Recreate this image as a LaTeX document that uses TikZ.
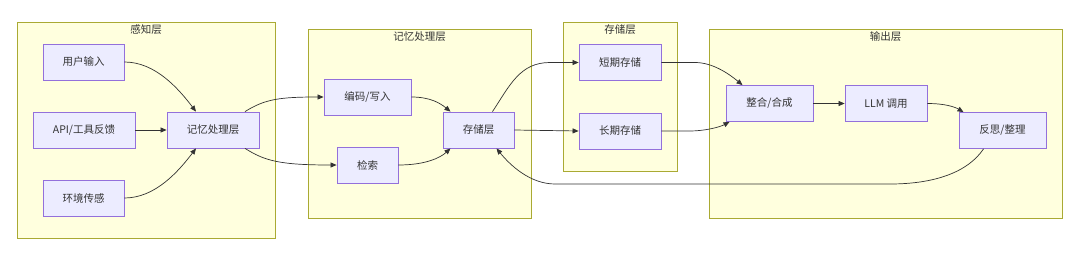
\documentclass[tikz,border=0pt]{standalone}
\usepackage{fontspec}
\setmainfont{Noto Sans CJK SC}
\usetikzlibrary{arrows.meta,calc}
\definecolor{nfill}{HTML}{ECECFF}
\definecolor{nline}{HTML}{9370DB}
\definecolor{cfill}{HTML}{FFFFDE}
\definecolor{cline}{HTML}{AAAA33}
\definecolor{txt}{HTML}{333333}
\tikzset{
  box/.style={draw=nline,fill=nfill,line width=0.8pt,minimum height=36pt,inner sep=0pt,text=txt,font=\fontsize{10.5}{12}\selectfont},
  grp/.style={draw=cline,fill=cfill,line width=0.8pt,inner sep=0pt},
  ttl/.style={text=txt,font=\fontsize{10.5}{12}\selectfont},
  ar/.style={-{Triangle[length=6pt,width=5pt]},line width=0.7pt,draw=txt},
}

\begin{document}
\begin{tikzpicture}[x=1pt,y=-1pt]
  \useasboundingbox (0,0) rectangle (1080,252);
  % groups
  \node[grp,minimum width=258pt,minimum height=216pt] (g1) at (146,130) {};
  \node[grp,minimum width=223pt,minimum height=189pt] (g2) at (419.5,123.5) {};
  \node[grp,minimum width=114pt,minimum height=149pt] (g3) at (620,96.5) {};
  \node[grp,minimum width=353pt,minimum height=189pt] (g4) at (885.5,123.5) {};
  \node[ttl] (t1) at (146,30) {感知层};
  \node[ttl] (t2) at (419.5,37) {记忆处理层};
  \node[ttl] (t3) at (620,30) {存储层};
  \node[ttl] (t4) at (885.5,37) {输出层};
  % nodes
  \node[box,minimum width=81pt] (usr) at (83.5,62) {用户输入};
  \node[box,minimum width=102pt] (api) at (84,130) {API/工具反馈};
  \node[box,minimum width=81pt] (env) at (83.5,198) {环境传感};
  \node[box,minimum width=92pt] (mem) at (213,130) {记忆处理层};
  \node[box,minimum width=87pt] (enc) at (367.5,97) {编码/写入};
  \node[box,minimum width=61pt] (ret) at (367.5,165) {检索};
  \node[box,minimum width=71pt] (sto) at (478.5,130) {存储层};
  \node[box,minimum width=82pt] (stm) at (620,62.5) {短期存储};
  \node[box,minimum width=82pt] (ltm) at (620,131) {长期存储};
  \node[box,minimum width=87pt] (mrg) at (769.5,103.5) {整合/合成};
  \node[box,minimum width=82pt] (llm) at (886,103.5) {LLM 调用};
  \node[box,minimum width=87pt] (rfl) at (1002.5,130.5) {反思/整理};
  % edges
  \draw[ar] (usr.east) .. controls (155,62) and (178,88) .. ([xshift=-17pt]mem.north);
  \draw[ar] (api.east) -- (mem.west);
  \draw[ar] (env.east) .. controls (155,198) and (178,172) .. ([xshift=-17pt]mem.south);
  \draw[ar] ([xshift=32pt]mem.north) .. controls (265,99) and (280,97) .. (enc.west);
  \draw[ar] ([xshift=32pt]mem.south) .. controls (265,161) and (280,165) .. (ret.west);
  \draw[ar] (enc.east) .. controls (430,97) and (440,103) .. ([xshift=-28pt]sto.north);
  \draw[ar] (ret.east) .. controls (425,165) and (440,158) .. ([xshift=-28pt]sto.south);
  \draw[ar] ([xshift=14pt]sto.north) .. controls (510,85) and (520,62.5) .. (550,62.5) -- (stm.west);
  \draw[ar] (sto.east) -- (ltm.west);
  \draw[ar] (stm.east) -- (695,62.5) .. controls (712,62.5) and (728,73) .. ([xshift=-27pt]mrg.north);
  \draw[ar] (ltm.east) -- (690,131) .. controls (705,131) and (720,127) .. ([xshift=-40pt]mrg.south);
  \draw[ar] (mrg.east) -- (llm.west);
  \draw[ar] (llm.east) .. controls (945,103.5) and (955,107) .. ([xshift=-39pt]rfl.north);
  \draw[ar] ([xshift=-19pt]rfl.south) .. controls (968,172) and (935,184) .. (890,184)
    -- (555,184) .. controls (530,184) and (510,165) .. ([xshift=18pt]sto.south);
\end{tikzpicture}
\end{document}
